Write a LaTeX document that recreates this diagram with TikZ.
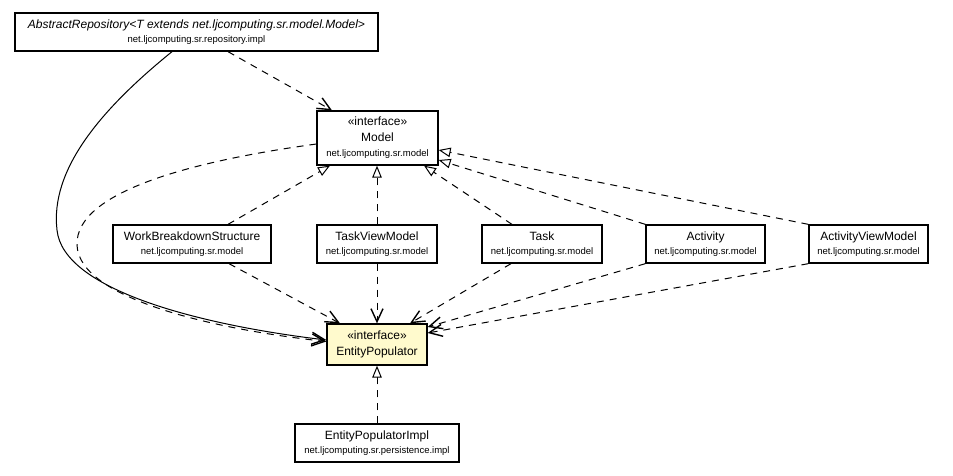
\documentclass[tikz,border=0pt]{standalone}
\usepackage{fontspec}
\setmainfont{Liberation Sans}
\usetikzlibrary{arrows.meta}
\definecolor{ifill}{RGB}{255,250,205}
\newcommand\nm[1]{{\fontsize{12}{14}\selectfont #1}}
\tikzset{
  cls/.style={draw, line width=1.3pt, fill=white, inner sep=0pt, align=center,
    font=\fontsize{9.5}{14}\selectfont},
  iface/.style={cls, font=\fontsize{9.5}{15.5}\selectfont},
  openhead/.style={-{Straight Barb[length=13pt,width=12pt,line width=1.4pt]}},
  trihead/.style={-{Triangle[open,length=12pt,width=9.5pt,fill=white,line width=1pt]}},
  depline/.style={line width=1pt, dash pattern=on 7pt off 6pt, openhead},
  realline/.style={line width=1pt, dash pattern=on 7pt off 6pt, trihead},
  assocline/.style={line width=1pt, openhead},
}
\begin{document}
\begin{tikzpicture}[x=1pt,y=-1pt]
\useasboundingbox (0,0) rectangle (953,475);

\node[cls, minimum width=363pt, minimum height=38pt] (ar) at (196.5,32)
  {{\fontsize{12}{14}\selectfont\itshape AbstractRepository<T extends net.ljcomputing.sr.model.Model>}\\net.ljcomputing.sr.repository.impl};
\node[iface, minimum width=121pt, minimum height=54pt] (model) at (377.5,138)
  {\nm{«interface»}\\\nm{Model}\\net.ljcomputing.sr.model};
\node[cls, minimum width=158pt, minimum height=38pt] (wbs) at (192,244)
  {\nm{WorkBreakdownStructure}\\net.ljcomputing.sr.model};
\node[cls, minimum width=120pt, minimum height=38pt] (tvm) at (377,244)
  {\nm{TaskViewModel}\\net.ljcomputing.sr.model};
\node[cls, minimum width=120pt, minimum height=38pt] (task) at (542,244)
  {\nm{Task}\\net.ljcomputing.sr.model};
\node[cls, minimum width=119pt, minimum height=38pt] (act) at (705.5,244)
  {\nm{Activity}\\net.ljcomputing.sr.model};
\node[cls, minimum width=119pt, minimum height=38pt] (avm) at (868.5,244)
  {\nm{ActivityViewModel}\\net.ljcomputing.sr.model};
\node[iface, fill=ifill, minimum width=100pt, minimum height=41pt] (ep) at (377,344.5)
  {\nm{«interface»}\\\nm{EntityPopulator}};
\node[cls, minimum width=164pt, minimum height=38pt] (epi) at (377,443)
  {\nm{EntityPopulatorImpl}\\net.ljcomputing.sr.persistence.impl};

% associations / dependencies from AbstractRepository
\draw[assocline] ([xshift=-24.5pt]ar.south) .. controls (100,110) and (50,170) .. (57,230)
  .. controls (63,290) and (200,325) .. ([yshift=4.5pt]ep.west);
\draw[depline] ([xshift=31.5pt]ar.south) -- ([xshift=-45.5pt]model.north);

% Model -> EntityPopulator
\draw[depline] ([yshift=-6pt]model.west) .. controls (200,160) and (75,190) .. (77,245)
  .. controls (79,300) and (220,330) .. ([yshift=3pt]ep.west);

% realizations of Model
\draw[realline] ([xshift=36pt]wbs.north) -- ([xshift=-47.5pt]model.south);
\draw[realline] (tvm.north) -- (tvm.north |- model.south);
\draw[realline] ([xshift=-30pt]task.north) -- ([xshift=46.5pt]model.south);
\draw[realline] (act.north west) -- ([yshift=-22pt]model.east);
\draw[realline] (avm.north west) -- ([yshift=-12pt]model.east);

% dependencies on EntityPopulator
\draw[depline] ([xshift=37pt]wbs.south) -- ([xshift=-37pt]ep.north);
\draw[depline] (tvm.south) -- (tvm.south |- ep.north);
\draw[depline] ([xshift=-31pt]task.south) -- ([xshift=33pt]ep.north);
\draw[depline] (act.south west) -- ([yshift=17.5pt]ep.east);
\draw[depline] (avm.south west) -- ([yshift=11.5pt]ep.east);

% realization of EntityPopulator
\draw[realline] (epi.north) -- (ep.south);
\end{tikzpicture}
\end{document}
